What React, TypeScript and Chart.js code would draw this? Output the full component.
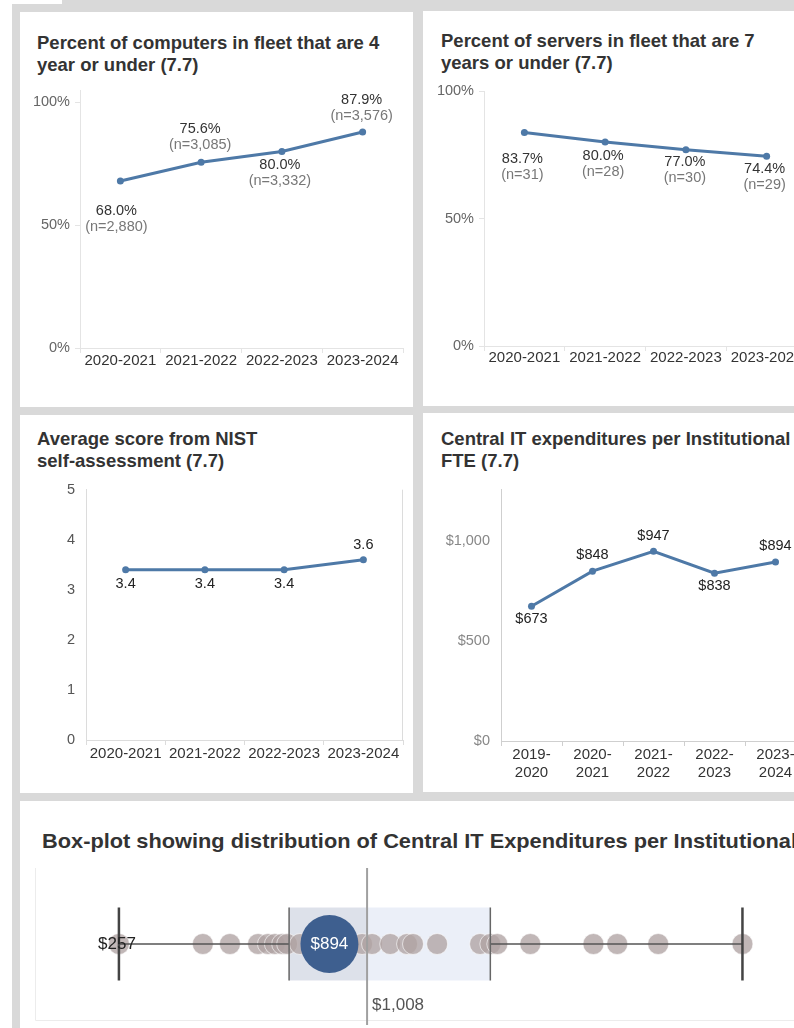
import React, { useEffect, useLayoutEffect, useRef } from 'react';
import { Chart, registerables } from 'chart.js';

Chart.register(...registerables);

// ---------- data ----------
const yearsA = ['2020-2021', '2021-2022', '2022-2023', '2023-2024'];
const computersPct = [68.0, 75.6, 80.0, 87.9];
const computersN = ['2,880', '3,085', '3,332', '3,576'];
const serversPct = [83.7, 80.0, 77.0, 74.4];
const serversN = ['31', '28', '30', '29'];
const pctTicks = [0, 50, 100];
const nistScore = [3.4, 3.4, 3.4, 3.6];
const nistTicks = [0, 1, 2, 3, 4, 5];
const yearsB = [['2019-', '2020'], ['2020-', '2021'], ['2021-', '2022'], ['2022-', '2023'], ['2023-', '2024']];
const expenditure = [673, 848, 947, 838, 894];
const expTicks = [0, 500, 1000];

const boxDots = [257, 511, 593, 678, 708, 729, 751, 766, 805, 840, 870, 920, 955, 993, 1023, 1078, 1129, 1147, 1220, 1350, 1381, 1402, 1502, 1693, 1765, 1889, 2144];
const boxMin = 257;
const boxQ1 = 772;
const boxMedian = 1008;
const boxQ3 = 1381;
const boxMax = 2144;
const boxHighlight = 894;

// ---------- style ----------
const FONT = "'Liberation Sans', Arial, sans-serif";
const BLUE = '#4e79a7';
const GRAY_BG = '#d9d9d9';

// label offsets (style only): vertical offset of first label line from point
const compLabelDy = [30, -33, 14, -32];
const compLabelDx = [-4, -1, -2, -1];
const servLabelDy = [26, 14, 12, 13];
const servLabelDx = [-2, -2, -1, -2];
const nistLabelDy = [14, 14, 14, -15];
const expLabelDy = [13, -16, -15, 13, -16];

type Box = { left: number; top: number; width: number; height: number };
type Area = { left: number; top: number; right: number; bottom: number };
type LineSpec = {
  canvas: Box;
  area: Area;
  labels: any[];
  values: number[];
  yMax: number;
  yTicks: number[];
  yFmt: (v: number) => string;
  yTickColor: string;
  yTickMarks: boolean;
  axisColor: string;
  xPad: number;
  rightBorder?: boolean;
  pointText: (i: number) => { text: string; color: string }[];
  labelDy: number[];
  labelDx?: number[];
};

function LineChartCanvas({ spec }: { spec: LineSpec }) {
  const ref = useRef<HTMLCanvasElement>(null);
  useEffect(() => {
    const s = spec;
    const padTop = s.area.top - s.canvas.top;
    const padRight = s.canvas.left + s.canvas.width - s.area.right;
    const yW = s.area.left - s.canvas.left;
    const xH = s.canvas.top + s.canvas.height - s.area.bottom;
    const labelPlugin = {
      id: 'ptLabels',
      afterDatasetsDraw(chart: any) {
        const ctx = chart.ctx;
        const meta = chart.getDatasetMeta(0);
        ctx.save();
        ctx.font = `14.5px ${FONT}`;
        ctx.textAlign = 'center';
        ctx.textBaseline = 'middle';
        meta.data.forEach((el: any, i: number) => {
          const lines = s.pointText(i);
          const dy = s.labelDy[i];
          const dx = s.labelDx ? s.labelDx[i] : 0;
          lines.forEach((ln, k) => {
            ctx.fillStyle = ln.color;
            ctx.fillText(ln.text, el.x + dx, el.y + dy + k * 16);
          });
        });
        if (s.rightBorder) {
          const a = chart.chartArea;
          ctx.strokeStyle = s.axisColor;
          ctx.lineWidth = 1;
          ctx.beginPath();
          ctx.moveTo(Math.round(a.right) - 0.5, a.top);
          ctx.lineTo(Math.round(a.right) - 0.5, a.bottom);
          ctx.stroke();
        }
        ctx.restore();
      },
    };
    const chart = new Chart(ref.current as HTMLCanvasElement, {
      type: 'line',
      data: {
        labels: s.labels,
        datasets: [
          {
            data: s.values,
            borderColor: BLUE,
            backgroundColor: BLUE,
            borderWidth: 3,
            pointRadius: 3.5,
            pointBorderWidth: 0,
            pointBackgroundColor: BLUE,
            tension: 0,
          },
        ],
      },
      options: {
        animation: false,
        responsive: false,
        maintainAspectRatio: false,
        layout: { autoPadding: false, padding: { top: padTop, right: padRight, left: 0, bottom: 0 } },
        plugins: { legend: { display: false }, tooltip: { enabled: false } },
        scales: {
          x: {
            offset: true,
            grid: { offset: true, drawOnChartArea: false, drawTicks: true, tickLength: 5, color: s.axisColor },
            border: { color: s.axisColor },
            ticks: {
              color: '#333',
              font: { size: 15, family: FONT },
              padding: s.xPad,
              maxRotation: 0,
              autoSkip: false,
            },
            afterFit: (sc: any) => {
              sc.height = xH;
            },
          },
          y: {
            min: 0,
            max: s.yMax,
            grid: { drawOnChartArea: false, drawTicks: s.yTickMarks, tickLength: 5, color: s.axisColor },
            border: { color: s.axisColor },
            ticks: {
              color: s.yTickColor,
              font: { size: 14.5, family: FONT },
              padding: s.yTickMarks ? 5 : 11,
              callback: (v: any) => s.yFmt(Number(v)),
            },
            afterBuildTicks: (sc: any) => {
              sc.ticks = s.yTicks.map((v) => ({ value: v }));
            },
            afterFit: (sc: any) => {
              sc.width = yW;
            },
          },
        },
      } as any,
      plugins: [labelPlugin],
    });
    return () => chart.destroy();
  }, []);
  const c = spec.canvas;
  return (
    <canvas
      ref={ref}
      width={c.width}
      height={c.height}
      style={{ position: 'absolute', left: c.left, top: c.top, width: c.width, height: c.height }}
    />
  );
}

function BoxPlotCanvas() {
  const ref = useRef<HTMLCanvasElement>(null);
  const canvasBox: Box = { left: 20, top: 860, width: 774, height: 168 };
  const area: Area = { left: 34, top: 868, right: 794, bottom: 1020 };
  useEffect(() => {
    const boxHalf = 0.24;
    const boxPlugin = {
      id: 'boxPlot',
      beforeDatasetsDraw(chart: any) {
        const ctx = chart.ctx;
        const xs = chart.scales.x;
        const ys = chart.scales.y;
        const a = chart.chartArea;
        const yT = ys.getPixelForValue(0.5 + boxHalf);
        const yB = ys.getPixelForValue(0.5 - boxHalf);
        ctx.save();
        ctx.strokeStyle = '#ececec';
        ctx.lineWidth = 1;
        ctx.beginPath();
        ctx.moveTo(a.left + 1.5, a.top);
        ctx.lineTo(a.left + 1.5, a.bottom + 0.5);
        ctx.lineTo(a.right, a.bottom + 0.5);
        ctx.stroke();
        const xq1 = xs.getPixelForValue(boxQ1);
        const xmed = xs.getPixelForValue(boxMedian);
        const xq3 = xs.getPixelForValue(boxQ3);
        ctx.fillStyle = '#dde1ea';
        ctx.fillRect(xq1, yT, xmed - xq1, yB - yT);
        ctx.fillStyle = '#ebeff8';
        ctx.fillRect(xmed, yT, xq3 - xmed, yB - yT);
        ctx.restore();
      },
      afterDatasetsDraw(chart: any) {
        const ctx = chart.ctx;
        const xs = chart.scales.x;
        const ys = chart.scales.y;
        const a = chart.chartArea;
        const yT = ys.getPixelForValue(0.5 + boxHalf);
        const yB = ys.getPixelForValue(0.5 - boxHalf);
        const yC = ys.getPixelForValue(0.5);
        const xmin = xs.getPixelForValue(boxMin);
        const xq1 = xs.getPixelForValue(boxQ1);
        const xmed = xs.getPixelForValue(boxMedian);
        const xq3 = xs.getPixelForValue(boxQ3);
        const xmax = xs.getPixelForValue(boxMax);
        ctx.save();
        ctx.strokeStyle = '#555';
        ctx.lineWidth = 1.5;
        ctx.beginPath();
        ctx.moveTo(xmin, yC);
        ctx.lineTo(xq1, yC);
        ctx.moveTo(xq3, yC);
        ctx.lineTo(xmax, yC);
        ctx.stroke();
        ctx.strokeStyle = '#666';
        ctx.lineWidth = 1.5;
        ctx.beginPath();
        ctx.moveTo(xq1, yT);
        ctx.lineTo(xq1, yB);
        ctx.moveTo(xq3, yT);
        ctx.lineTo(xq3, yB);
        ctx.stroke();
        ctx.strokeStyle = '#444';
        ctx.lineWidth = 2.5;
        ctx.beginPath();
        ctx.moveTo(xmin, yT);
        ctx.lineTo(xmin, yB);
        ctx.moveTo(xmax, yT);
        ctx.lineTo(xmax, yB);
        ctx.stroke();
        ctx.strokeStyle = '#a0a0a0';
        ctx.lineWidth = 2;
        ctx.beginPath();
        ctx.moveTo(xmed, a.top);
        ctx.lineTo(xmed, chart.height - 3);
        ctx.stroke();
        ctx.font = `17px ${FONT}`;
        ctx.textBaseline = 'middle';
        ctx.textAlign = 'center';
        ctx.fillStyle = '#222';
        ctx.fillText('$' + boxMin.toLocaleString('en-US'), xmin - 2, yC);
        ctx.fillStyle = '#ffffff';
        ctx.fillText('$' + boxHighlight.toLocaleString('en-US'), xs.getPixelForValue(boxHighlight), yC);
        ctx.textAlign = 'left';
        ctx.fillStyle = '#555';
        ctx.fillText('$' + boxMedian.toLocaleString('en-US'), xmed + 5, yB + 25);
        ctx.restore();
      },
    };
    const chart = new Chart(ref.current as HTMLCanvasElement, {
      type: 'scatter',
      data: {
        datasets: [
          {
            data: [{ x: boxHighlight, y: 0.5 }],
            pointRadius: 29,
            backgroundColor: '#3e5f8f',
            borderWidth: 0,
            order: 0,
          },
          {
            data: boxDots.map((v) => ({ x: v, y: 0.5 })),
            pointRadius: 10.5,
            backgroundColor: 'rgba(176,163,163,0.78)',
            borderColor: 'rgba(255,255,255,0.6)',
            borderWidth: 1,
            order: 1,
          },
        ],
      },
      options: {
        animation: false,
        responsive: false,
        maintainAspectRatio: false,
        layout: {
          autoPadding: false,
          padding: {
            left: area.left - canvasBox.left,
            right: canvasBox.left + canvasBox.width - area.right,
            top: area.top - canvasBox.top,
            bottom: canvasBox.top + canvasBox.height - area.bottom,
          },
        },
        plugins: { legend: { display: false }, tooltip: { enabled: false } },
        scales: {
          x: { type: 'linear', min: 0, max: 2300, display: false },
          y: { type: 'linear', min: 0, max: 1, display: false },
        },
      } as any,
      plugins: [boxPlugin],
    });
    return () => chart.destroy();
  }, []);
  return (
    <canvas
      ref={ref}
      width={canvasBox.width}
      height={canvasBox.height}
      style={{ position: 'absolute', left: canvasBox.left, top: canvasBox.top, width: canvasBox.width, height: canvasBox.height }}
    />
  );
}

function Title({ left, top, lines }: { left: number; top: number; lines: string[] }) {
  return (
    <div
      style={{
        position: 'absolute',
        left,
        top,
        fontFamily: FONT,
        fontWeight: 'bold',
        fontSize: 18.5,
        lineHeight: '22px',
        color: '#333',
        whiteSpace: 'nowrap',
      }}
    >
      {lines.map((l, i) => (
        <div key={i}>{l}</div>
      ))}
    </div>
  );
}

function BoxTitle() {
  const ref = useRef<HTMLDivElement>(null);
  const partRef = useRef<HTMLSpanElement>(null);
  useLayoutEffect(() => {
    const el = ref.current;
    const part = partRef.current;
    if (!el || !part) return;
    const w = part.getBoundingClientRect().width;
    el.style.transform = `scaleX(${755 / w})`;
  }, []);
  return (
    <div
      ref={ref}
      style={{
        position: 'absolute',
        left: 42,
        top: 829,
        fontFamily: FONT,
        fontWeight: 'bold',
        fontSize: 21,
        lineHeight: '24px',
        color: '#333',
        whiteSpace: 'nowrap',
        display: 'inline-block',
        transformOrigin: 'left top',
      }}
    >
      <span ref={partRef}>Box-plot showing distribution of Central IT Expenditures per Institutional</span>
      <span> FTE</span>
    </div>
  );
}

const panel = (left: number, top: number, width: number, height: number) => (
  <div style={{ position: 'absolute', left, top, width, height, background: '#fff' }} />
);

export default function App() {
  const spec1: LineSpec = {
    canvas: { left: 20, top: 75, width: 393, height: 310 },
    area: { left: 80, top: 90, right: 403, bottom: 348 },
    labels: yearsA,
    values: computersPct,
    yMax: 105,
    yTicks: pctTicks,
    yFmt: (v) => v + '%',
    yTickColor: '#666',
    yTickMarks: true,
    axisColor: '#e4e4e4',
    xPad: -1,
    pointText: (i) => [
      { text: computersPct[i].toFixed(1) + '%', color: '#333' },
      { text: '(n=' + computersN[i] + ')', color: '#777' },
    ],
    labelDy: compLabelDy,
    labelDx: compLabelDx,
  };
  const spec2: LineSpec = {
    canvas: { left: 423, top: 76, width: 400, height: 309 },
    area: { left: 484, top: 91, right: 807, bottom: 346 },
    labels: yearsA,
    values: serversPct,
    yMax: 100,
    yTicks: pctTicks,
    yFmt: (v) => v + '%',
    yTickColor: '#666',
    yTickMarks: true,
    axisColor: '#e4e4e4',
    xPad: -2,
    pointText: (i) => [
      { text: serversPct[i].toFixed(1) + '%', color: '#333' },
      { text: '(n=' + serversN[i] + ')', color: '#777' },
    ],
    labelDy: servLabelDy,
    labelDx: servLabelDx,
  };
  const spec3: LineSpec = {
    canvas: { left: 20, top: 470, width: 393, height: 310 },
    area: { left: 86, top: 485, right: 403, bottom: 740 },
    labels: yearsA,
    values: nistScore,
    yMax: 5,
    yTicks: nistTicks,
    yFmt: (v) => String(v),
    yTickColor: '#555',
    yTickMarks: false,
    axisColor: '#dcdcdc',
    xPad: 0,
    rightBorder: true,
    pointText: (i) => [{ text: nistScore[i].toFixed(1), color: '#222' }],
    labelDy: nistLabelDy,
  };
  const spec4: LineSpec = {
    canvas: { left: 423, top: 470, width: 400, height: 315 },
    area: { left: 501, top: 485, right: 806, bottom: 741 },
    labels: yearsB,
    values: expenditure,
    yMax: 1255,
    yTicks: expTicks,
    yFmt: (v) => '$' + v.toLocaleString('en-US'),
    yTickColor: '#888',
    yTickMarks: false,
    axisColor: '#cfcfcf',
    xPad: 0,
    pointText: (i) => [{ text: '$' + expenditure[i], color: '#222' }],
    labelDy: expLabelDy,
  };

  return (
    <div
      style={{
        position: 'absolute',
        left: 0,
        top: 0,
        width: 794,
        height: 1028,
        overflow: 'hidden',
        background: '#fff',
      }}
    >
      <div style={{ position: 'absolute', left: 12, top: 4, width: 782, height: 1024, background: GRAY_BG }} />
      <div style={{ position: 'absolute', left: 62, top: 0, width: 732, height: 4, background: GRAY_BG }} />
      {panel(20, 12, 393, 395)}
      {panel(423, 11, 371, 395)}
      {panel(20, 415, 393, 378)}
      {panel(423, 413, 371, 379)}
      {panel(20, 801, 774, 227)}

      <Title left={37} top={32} lines={['Percent of computers in fleet that are 4', 'year or under (7.7)']} />
      <Title left={441} top={30} lines={['Percent of servers in fleet that are 7', 'years or under (7.7)']} />
      <Title left={37} top={428} lines={['Average score from NIST', 'self-assessment (7.7)']} />
      <Title left={441} top={428} lines={['Central IT expenditures per Institutional', 'FTE (7.7)']} />
      <BoxTitle />

      <LineChartCanvas spec={spec1} />
      <LineChartCanvas spec={spec2} />
      <LineChartCanvas spec={spec3} />
      <LineChartCanvas spec={spec4} />
      <BoxPlotCanvas />
    </div>
  );
}
